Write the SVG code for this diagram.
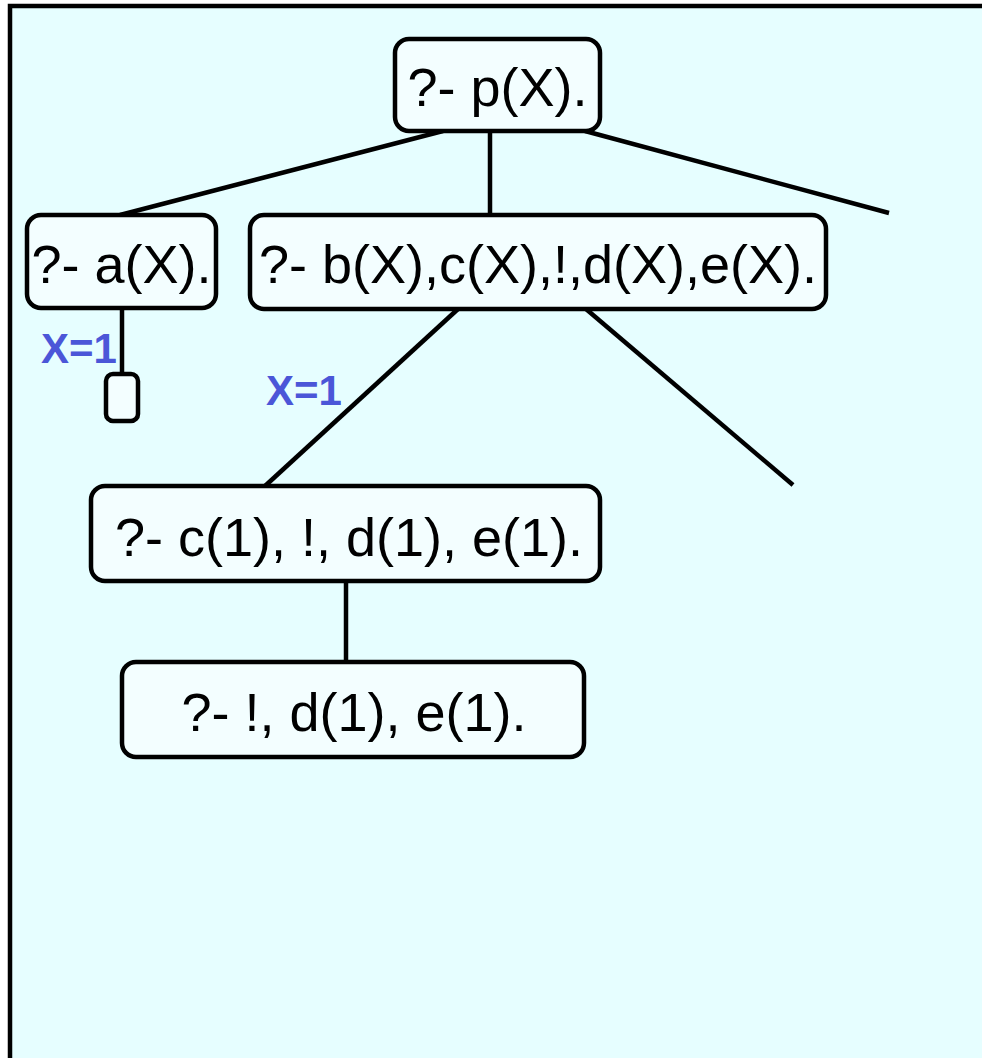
<svg xmlns="http://www.w3.org/2000/svg" width="982" height="1058" viewBox="0 0 982 1058">
<style>
.node rect{fill:#F3FEFF;stroke:#000;stroke-width:4.5}
.node text{font-family:"Liberation Sans",Arial,sans-serif;font-size:54px;fill:#000}
.conn line{stroke:#000;stroke-width:4.5;stroke-linecap:butt}
.lbl{font-family:"Liberation Sans",Arial,sans-serif;font-size:42px;font-weight:bold;fill:#4B56D8}
</style>
<rect x="0" y="0" width="982" height="1058" fill="#ffffff"/>
<rect x="10" y="6" width="990" height="1070" fill="#E6FEFF" stroke="#000" stroke-width="4.5"/>
<g id="connectors" class="conn">
<line x1="443" y1="131" x2="120" y2="215"/>
<line x1="490" y1="131" x2="490" y2="215"/>
<line x1="585" y1="131" x2="889" y2="213"/>
<line x1="122" y1="308" x2="122" y2="374"/>
<line x1="458" y1="309" x2="265" y2="486"/>
<line x1="586" y1="309" x2="793" y2="485"/>
<line x1="346" y1="581" x2="346" y2="662"/>
</g>
<g id="n_p" class="node"><rect x="395" y="39" width="205" height="92" rx="14"/><text x="497.5" y="106" text-anchor="middle">?- p(X).</text></g>
<g id="n_a" class="node"><rect x="27" y="215" width="189" height="93" rx="14"/><text x="121.5" y="283" text-anchor="middle">?- a(X).</text></g>
<g id="n_b" class="node"><rect x="250" y="215" width="576" height="94" rx="14"/><text x="538" y="283" text-anchor="middle">?- b(X),c(X),!,d(X),e(X).</text></g>
<g id="n_empty" class="node"><rect x="106" y="374" width="32" height="47" rx="7"/></g>
<g id="n_c" class="node"><rect x="91" y="486" width="509" height="95" rx="14"/><text x="349" y="556" text-anchor="middle">?- c(1), !, d(1), e(1).</text></g>
<g id="n_d" class="node"><rect x="122" y="662" width="462" height="95" rx="14"/><text x="354" y="731" text-anchor="middle">?- !, d(1), e(1).</text></g>
<g id="labels">
<text class="lbl" x="41" y="363">X=1</text>
<text class="lbl" x="266" y="405">X=1</text>
</g>
</svg>
